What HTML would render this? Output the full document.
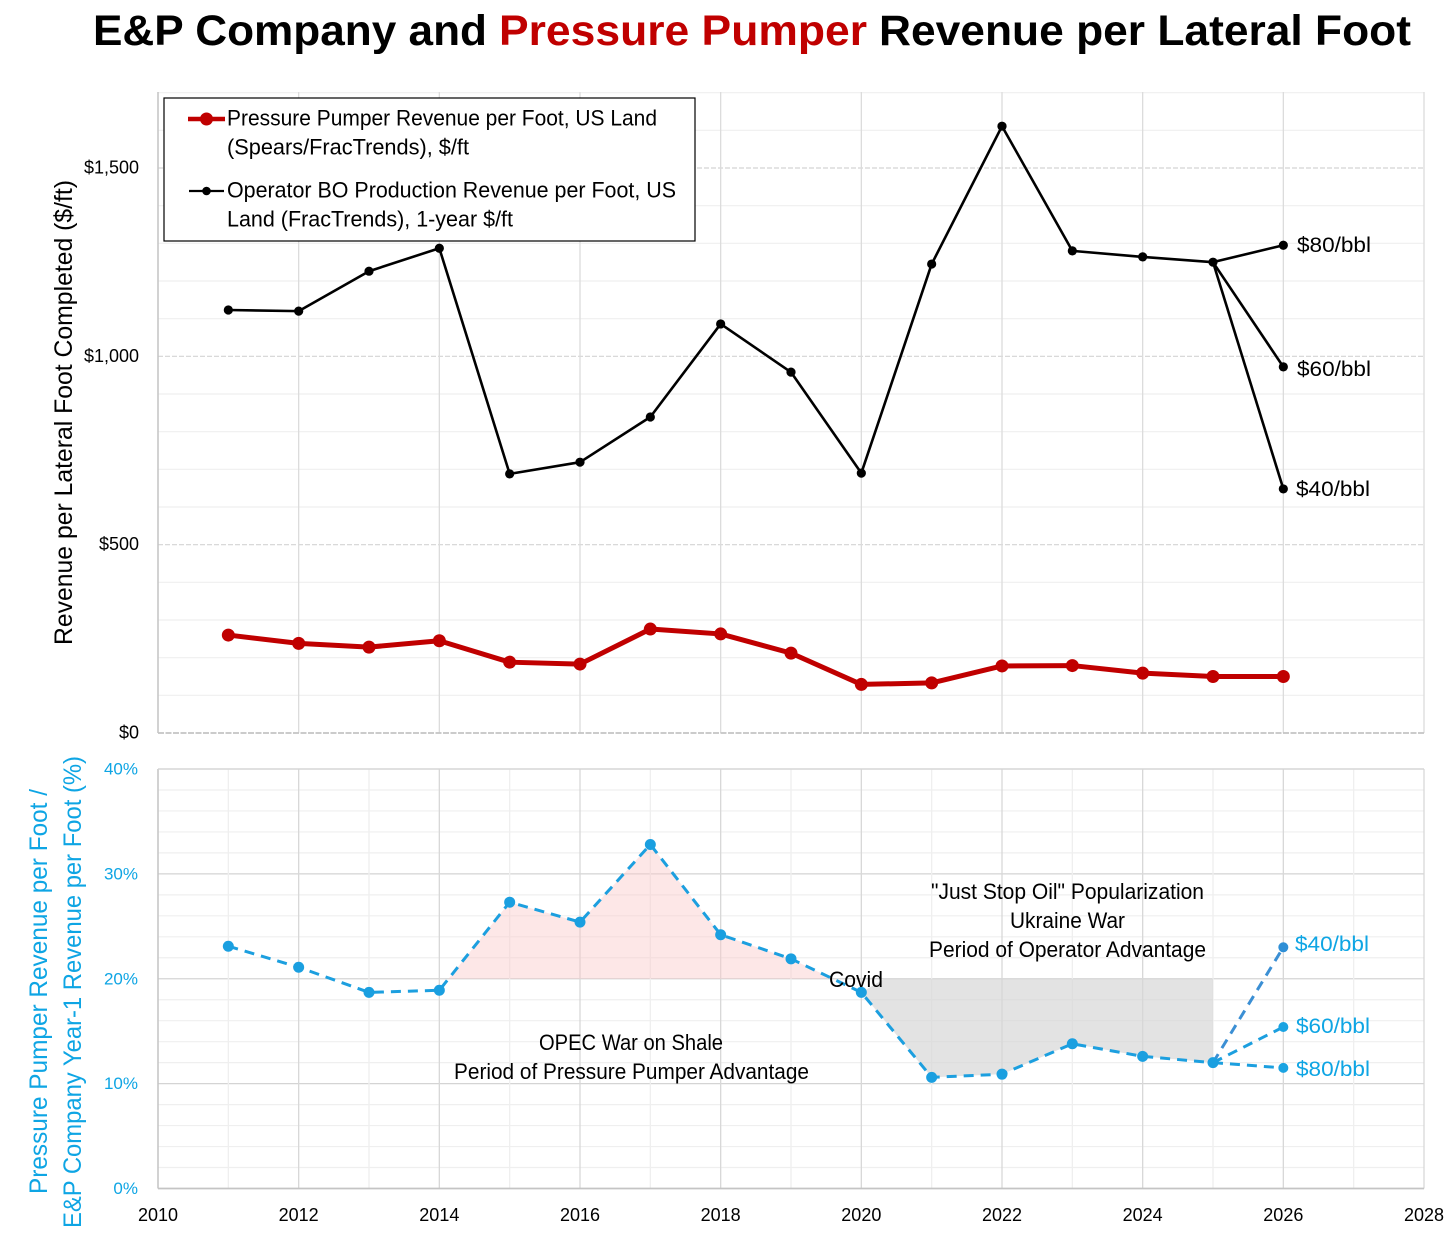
<!DOCTYPE html>
<html lang="en">
<head>
<meta charset="utf-8">
<title>E&amp;P Company and Pressure Pumper Revenue per Lateral Foot</title>
<style>
html,body{margin:0;padding:0;background:#fff;}
svg{display:block;}
text{font-family:"Liberation Sans",sans-serif;}
</style>
</head>
<body>
<svg id="chart" xmlns="http://www.w3.org/2000/svg" width="1456" height="1234" viewBox="0 0 1456 1234">
  <rect width="1456" height="1234" fill="#fff"/>
  <g font-weight="700" font-size="43" fill="#000">
    <text x="93" y="45" textLength="394" lengthAdjust="spacingAndGlyphs">E&amp;P Company and</text>
    <text x="499" y="45" textLength="368" lengthAdjust="spacingAndGlyphs" fill="#c00000">Pressure Pumper</text>
    <text x="879" y="45" textLength="532" lengthAdjust="spacingAndGlyphs">Revenue per Lateral Foot</text>
  </g>
  <g id="grid-layer"></g>
  <g id="area-layer"></g>
  <g id="axis-layer"></g>
  <g id="series-layer"></g>

  <text transform="translate(72,645) rotate(-90)" font-size="25" textLength="465" lengthAdjust="spacingAndGlyphs" fill="#000">Revenue per Lateral Foot Completed ($/ft)</text>
  <text transform="translate(47,1194) rotate(-90)" font-size="25" textLength="405" lengthAdjust="spacingAndGlyphs" fill="#0ea5e4">Pressure Pumper Revenue per Foot /</text>
  <text transform="translate(81,1228) rotate(-90)" font-size="25" textLength="472" lengthAdjust="spacingAndGlyphs" fill="#0ea5e4">E&amp;P Company Year-1 Revenue per Foot (%)</text>

  <g font-size="21" fill="#000">
    <text x="1297" y="252" textLength="74" lengthAdjust="spacingAndGlyphs">$80/bbl</text>
    <text x="1297" y="376" textLength="74" lengthAdjust="spacingAndGlyphs">$60/bbl</text>
    <text x="1296" y="496" textLength="74" lengthAdjust="spacingAndGlyphs">$40/bbl</text>
  </g>
  <g font-size="21" fill="#0ea5e4">
    <text x="1295" y="951" textLength="74" lengthAdjust="spacingAndGlyphs">$40/bbl</text>
    <text x="1296" y="1033" textLength="74" lengthAdjust="spacingAndGlyphs">$60/bbl</text>
    <text x="1296" y="1076" textLength="74" lengthAdjust="spacingAndGlyphs">$80/bbl</text>
  </g>
  <g font-size="22" fill="#000">
    <text x="539" y="1050" textLength="184" lengthAdjust="spacingAndGlyphs">OPEC War on Shale</text>
    <text x="454" y="1079" textLength="355" lengthAdjust="spacingAndGlyphs">Period of Pressure Pumper Advantage</text>
    <text x="931" y="899" textLength="273" lengthAdjust="spacingAndGlyphs">"Just Stop Oil" Popularization</text>
    <text x="1010" y="928" textLength="115" lengthAdjust="spacingAndGlyphs">Ukraine War</text>
    <text x="929" y="957" textLength="277" lengthAdjust="spacingAndGlyphs">Period of Operator Advantage</text>
    <text x="829" y="987" textLength="54" lengthAdjust="spacingAndGlyphs">Covid</text>
  </g>

  <g>
    <rect x="164" y="98" width="531" height="143" fill="#fff" stroke="#000" stroke-width="1.2"/>
    <g>
      <line x1="188" y1="119" x2="225" y2="119" stroke="#c00000" stroke-width="4.5"/>
      <circle cx="206.500" cy="119" r="6.5" fill="#c00000"/>
      <text x="227" y="125.500" font-size="22" textLength="430" lengthAdjust="spacingAndGlyphs">Pressure Pumper Revenue per Foot, US Land</text>
      <text x="227" y="154.500" font-size="22" textLength="242" lengthAdjust="spacingAndGlyphs">(Spears/FracTrends), $/ft</text>
    </g>
    <g>
      <line x1="189" y1="191" x2="224" y2="191" stroke="#000" stroke-width="2.2"/>
      <circle cx="206.500" cy="191" r="4.3" fill="#000"/>
      <text x="227" y="197.500" font-size="22" textLength="449" lengthAdjust="spacingAndGlyphs">Operator BO Production Revenue per Foot, US</text>
      <text x="227" y="226.500" font-size="22" textLength="286" lengthAdjust="spacingAndGlyphs">Land (FracTrends), 1-year $/ft</text>
    </g>
  </g>
</svg>
<script>
// ---- chart data ----
const years = [2011,2012,2013,2014,2015,2016,2017,2018,2019,2020,2021,2022,2023,2024,2025,2026];
const pumperRevenue = [260,238,228,245,188,183,276,263,212,129,133,178,179,159,150,150];
const operatorYears = [2011,2012,2013,2014,2015,2016,2017,2018,2019,2020,2021,2022,2023,2024,2025];
const operatorRevenue = [1123,1120,1226,1287,688,719,839,1086,958,690,1245,1611,1280,1264,1250];
const operatorScenarios2026 = [1295,972,648];
const ratioYears = [2011,2012,2013,2014,2015,2016,2017,2018,2019,2020,2021,2022,2023,2024,2025];
const ratioPercent = [23.1,21.1,18.7,18.9,27.3,25.4,32.8,24.2,21.9,18.7,10.6,10.9,13.8,12.6,12.0];
const ratioScenarios2026 = [23.0,15.4,11.5];
const scenarioYear = [2026];
const xTickLabels = [2010,2012,2014,2016,2018,2020,2022,2024,2026,2028];
const topTickLabels = [0,500,1000,1500];
const bottomTickLabels = [0,10,20,30,40];
const ratioThreshold = [20];

// ---- axis functions ----
function xPos(year){ return 158 + (year - 2010) * (1424 - 158) / 18; }
function topY(value){ return 733 - value * (733 - 168) / 1500; }
function bottomY(pct){ return 1188.5 - pct * (1188.5 - 769) / 40; }

const NS = 'http://www.w3.org/2000/svg';
function make(tag, parent, attrs){
  const el = document.createElementNS(NS, tag);
  for (const k in attrs) el.setAttribute(k, attrs[k]);
  parent.appendChild(el);
  return el;
}
const gridLayer = document.getElementById('grid-layer');
const areaLayer = document.getElementById('area-layer');
const axisLayer = document.getElementById('axis-layer');
const seriesLayer = document.getElementById('series-layer');

// ---- gridlines ----
for (let v = 100; v <= 1700; v += 100) {
  const major = v % 500 === 0;
  const l = make('line', gridLayer, {x1:xPos(2010), x2:xPos(2028), y1:topY(v), y2:topY(v), stroke: major ? '#d4d4d4' : '#efefef', 'stroke-width':1.2, 'stroke-dasharray': major ? '5 2' : 'none'});
  
  
}
for (let y = 2012; y <= 2028; y += 2) {
  const l = make('line', gridLayer, {x1:xPos(y), x2:xPos(y), y1:92, y2:topY(0), stroke:'#dcdcdc', 'stroke-width':1.3});
  
  
}
for (let p = 2; p <= 40; p += 2) {
  const major = p % 10 === 0;
  const l = make('line', gridLayer, {x1:xPos(2010), x2:xPos(2028), y1:bottomY(p), y2:bottomY(p), stroke: major ? '#d4d4d4' : '#efefef', 'stroke-width':1.2});
  
  
}
for (let y = 2011; y <= 2028; y += 1) {
  const major = y % 2 === 0;
  const l = make('line', gridLayer, {x1:xPos(y), x2:xPos(y), y1:bottomY(40), y2:bottomY(0), stroke: major ? '#d8d8d8' : '#efefef', 'stroke-width':1.3});
  
  
}
const axisTop1 = make('line', gridLayer, {x1:xPos(2010), x2:xPos(2010), y1:92, y2:topY(0), stroke:'#c4c4c4', 'stroke-width':1.5});


const axisTop2 = make('line', gridLayer, {x1:xPos(2010), x2:xPos(2028), y1:topY(0), y2:topY(0), stroke:'#c4c4c4', 'stroke-width':1.8, 'stroke-dasharray':'6 1.500'});


const axisBot1 = make('line', gridLayer, {x1:xPos(2010), x2:xPos(2010), y1:bottomY(40), y2:bottomY(0), stroke:'#c4c4c4', 'stroke-width':1.5});


const axisBot2 = make('line', gridLayer, {x1:xPos(2010), x2:xPos(2028), y1:bottomY(0), y2:bottomY(0), stroke:'#c4c4c4', 'stroke-width':1.8});


const axisBotTop = make('line', gridLayer, {x1:xPos(2010), x2:xPos(2028), y1:bottomY(40), y2:bottomY(40), stroke:'#d4d4d4', 'stroke-width':1.3});



// ---- advantage areas ----
function crossing(i, t){
  const a = ratioPercent[i], b = ratioPercent[i + 1];
  return ratioYears[i] + (t - a) / (b - a);
}
const threshold = ratioThreshold[0];
let pinkPts = [];
let greyPts = [];
for (let i = 0; i < ratioYears.length - 1; i++) {
  if (ratioYears[i] >= 2014 && ratioYears[i] < 2020 && ratioPercent[i] <= threshold && ratioPercent[i + 1] > threshold) {
    pinkPts.push([xPos(crossing(i, threshold)), bottomY(threshold)]);
  }
  if (ratioYears[i] >= 2014 && ratioYears[i] < 2020 && ratioPercent[i] > threshold) {
    pinkPts.push([xPos(ratioYears[i]), bottomY(ratioPercent[i])]);
    if (ratioPercent[i + 1] <= threshold) pinkPts.push([xPos(crossing(i, threshold)), bottomY(threshold)]);
  }
  if (ratioYears[i] >= 2020) greyPts.push([xPos(ratioYears[i]), bottomY(ratioPercent[i])]);
}
greyPts.push([xPos(ratioYears[ratioYears.length - 1]), bottomY(ratioPercent[ratioPercent.length - 1])]);
greyPts.push([xPos(ratioYears[ratioYears.length - 1]), bottomY(threshold)]);
greyPts.push([xPos(2020.33), bottomY(threshold)]);
const pinkArea = make('polygon', areaLayer, {points: pinkPts.map(p => p.join(',')).join(' '), fill:'#fbc9c9', opacity:'0.45'});


const greyArea = make('polygon', areaLayer, {points: greyPts.map(p => p.join(',')).join(' '), fill:'#d6d6d6', opacity:'0.68'});



// ---- tick labels ----
xTickLabels.forEach(function(y){
  const t = make('text', axisLayer, {x:xPos(y), y:1221, 'text-anchor':'middle', 'font-size':18, fill:'#000'});
  t.textContent = y;
  
  
});
topTickLabels.forEach(function(v){
  const t = make('text', axisLayer, {x:139, y:topY(v) + 5.5, 'text-anchor':'end', 'font-size':18, fill:'#000'});
  t.textContent = '$' + v.toLocaleString('en-US');
  
  
});
bottomTickLabels.forEach(function(p){
  const t = make('text', axisLayer, {x:138, y:bottomY(p) + 5.5, 'text-anchor':'end', 'font-size':17, fill:'#0ea5e4'});
  t.textContent = p + '%';
  
  
});

// ---- series ----
function pathFrom(xs, ys){
  return xs.map(function(x, i){ return (i ? 'L' : 'M') + xPos(x) + ' ' + ys[i]; }).join(' ');
}
const lastOpYear = operatorYears[operatorYears.length - 1];
const lastOpValue = operatorRevenue[operatorRevenue.length - 1];
const opLine = make('path', seriesLayer, {d:pathFrom(operatorYears, operatorRevenue.map(topY)), fill:'none', stroke:'#000', 'stroke-width':2.6, 'stroke-linejoin':'round'});


operatorScenarios2026.forEach(function(v){
  const l = make('line', seriesLayer, {x1:xPos(lastOpYear), y1:topY(lastOpValue), x2:xPos(scenarioYear[0]), y2:topY(v), stroke:'#000', 'stroke-width':2.6});
  
  
  const c = make('circle', seriesLayer, {cx:xPos(scenarioYear[0]), cy:topY(v), r:4.6, fill:'#000'});
  
  
});
operatorYears.forEach(function(y, i){
  const c = make('circle', seriesLayer, {cx:xPos(y), cy:topY(operatorRevenue[i]), r:4.6, fill:'#000'});
  
  
});
const redLine = make('path', seriesLayer, {d:pathFrom(years, pumperRevenue.map(topY)), fill:'none', stroke:'#c00000', 'stroke-width':5, 'stroke-linejoin':'round'});


years.forEach(function(y, i){
  const c = make('circle', seriesLayer, {cx:xPos(y), cy:topY(pumperRevenue[i]), r:6.5, fill:'#c00000'});
  
  
});
const lastRatioYear = ratioYears[ratioYears.length - 1];
const lastRatio = ratioPercent[ratioPercent.length - 1];
ratioScenarios2026.forEach(function(p, i){
  const l = make('line', seriesLayer, {x1:xPos(lastRatioYear), y1:bottomY(lastRatio), x2:xPos(scenarioYear[0]), y2:bottomY(p), stroke: i === 0 ? '#3b8fd4' : '#1c9fdf', 'stroke-width':3, 'stroke-dasharray':'10 7'});
  
  
  const c = make('circle', seriesLayer, {cx:xPos(scenarioYear[0]), cy:bottomY(p), r:5, fill: i === 0 ? '#2f8fd6' : '#1aa3e2'});
  
  
});
const ratioLine = make('path', seriesLayer, {d:pathFrom(ratioYears, ratioPercent.map(bottomY)), fill:'none', stroke:'#1c9fdf', 'stroke-width':3, 'stroke-dasharray':'10 7'});


ratioYears.forEach(function(y, i){
  const c = make('circle', seriesLayer, {cx:xPos(y), cy:bottomY(ratioPercent[i]), r:5.5, fill:'#1a9fe0'});
  
  
});
</script>
</body>
</html>
